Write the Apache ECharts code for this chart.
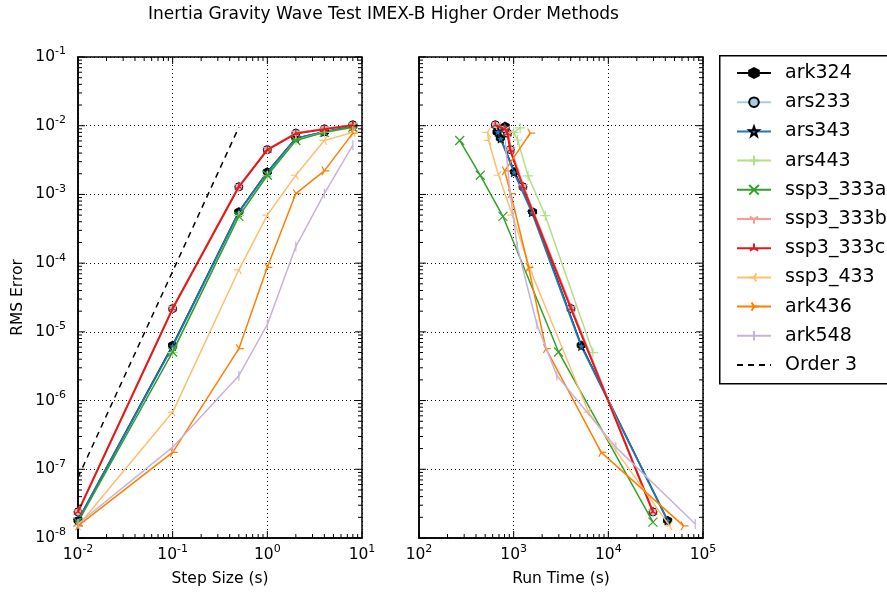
<!DOCTYPE html>
<html>
<head>
<meta charset="utf-8">
<script src="https://cdn.jsdelivr.net/npm/echarts@6/dist/echarts.min.js"></script>
<style>
html,body{margin:0;padding:0;background:#fff;}
#chart{width:887px;height:592px;}
</style>
</head>
<body>
<div id="chart"></div>
<script>
// ---------------- data ----------------
const stepSizes = [0.01, 0.1, 0.5, 1, 2, 4, 8];

const err_ark324    = [1.8e-8, 6.4e-6, 5.6e-4, 2.13e-3, 6.6e-3, 8.1e-3, 9.8e-3];
const err_ars233    = [2.4e-8, 2.18e-5, 1.29e-3, 4.49e-3, 7.8e-3, 9.0e-3, 1.03e-2];
const err_ars343    = [1.8e-8, 6.2e-6, 5.5e-4, 2.1e-3, 6.5e-3, 8.1e-3, 9.8e-3];
const err_ars443    = [null, 5.0e-6, 4.9e-4, 1.86e-3, 6.2e-3, 8.0e-3, 9.3e-3];
const err_ssp3_333a = [1.7e-8, 5.1e-6, 4.8e-4, 1.9e-3, 6.1e-3, 8.0e-3, 9.5e-3];
const err_ssp3_333b = [2.4e-8, 2.2e-5, 1.3e-3, 4.5e-3, 7.8e-3, 9.0e-3, 1.02e-2];
const err_ssp3_333c = [2.4e-8, 2.18e-5, 1.29e-3, 4.45e-3, 7.7e-3, 8.9e-3, 1.02e-2];
const err_ssp3_433  = [1.5e-8, 6.8e-7, 8.0e-5, 5.0e-4, 1.9e-3, 6.1e-3, 8.0e-3];
const err_ark436    = [1.5e-8, 1.76e-7, 5.7e-6, 8.7e-5, 1.03e-3, 2.2e-3, 7.8e-3];
const err_ark548    = [1.6e-8, 2.1e-7, 2.3e-6, 1.28e-5, 1.74e-4, 1.03e-3, 5.2e-3];

const rt_ark324    = [42300, 5180, 1585, 1024, 723, 667, 815];
const rt_ars233    = [29600, 4030, 1253, 920, 860, 810, 640];
const rt_ars343    = [42300, 5180, 1560, 1010, 730, 680, 800];
const rt_ars443    = [null, 6870, 2160, 1420, 1100, 1000, 1170];
const rt_ssp3_333a = [29600, 2980, 770, 444, 269, null, null];
const rt_ssp3_333b = [29600, 4100, 1270, 940, 880, 830, 660];
const rt_ssp3_333c = [29600, 4030, 1253, 920, 860, 810, 640];
const rt_ssp3_433  = [44400, 6170, 1497, 970, 692, 543, 530];
const rt_ark436    = [62200, 8420, 2190, 1437, 930, 804, 1497];
const rt_ark548    = [82800, 12000, 2865, 1760, 1090, 920, 820];

const order3X = [0.01, 0.5];
const order3Y = [7.6e-8, 9.5e-3];

const methodNames = ['ark324','ars233','ars343','ars443','ssp3_333a','ssp3_333b','ssp3_333c','ssp3_433','ark436','ark548'];
const errors = [err_ark324, err_ars233, err_ars343, err_ars443, err_ssp3_333a, err_ssp3_333b, err_ssp3_333c, err_ssp3_433, err_ark436, err_ark548];
const runTimes = [rt_ark324, rt_ars233, rt_ars343, rt_ars443, rt_ssp3_333a, rt_ssp3_333b, rt_ssp3_333c, rt_ssp3_433, rt_ark436, rt_ark548];

const xTicksLeft = [-2, -1, 0, 1];
const xTicksRight = [2, 3, 4, 5];
const yTicks = [-8, -7, -6, -5, -4, -3, -2, -1];

// ---------------- styles ----------------
const BOX = 'M0,0M10,10';
const SYM = {
  hex: 'path://M5,0L9.33,2.5L9.33,7.5L5,10L0.67,7.5L0.67,2.5Z',
  circle: 'circle',
  star: 'path://M5,0L6.18,3.38L9.76,3.45L6.9,5.62L7.94,9.05L5,7L2.06,9.05L3.1,5.62L0.24,3.45L3.82,3.38Z',
  plus: 'path://' + BOX + 'M5,0L5,10M0,5L10,5',
  cross: 'path://' + BOX + 'M0,0L10,10M10,0L0,10',
  tdown: 'path://' + BOX + 'M5,5L5,10M5,5L0.67,2.5M5,5L9.33,2.5',
  tup: 'path://' + BOX + 'M5,5L5,0M5,5L0.67,7.5M5,5L9.33,7.5',
  tleft: 'path://' + BOX + 'M5,5L0,5M5,5L7.5,0.67M5,5L7.5,9.33',
  tright: 'path://' + BOX + 'M5,5L10,5M5,5L2.5,0.67M5,5L2.5,9.33',
  vline: 'path://' + BOX + 'M5,0L5,10'
};
const styles = {
  ark324:    {color:'#000000', symbol:SYM.hex,   size:8,  fill:'#000000', edge:'#000000', ew:1,   lw:1.5},
  ars233:    {color:'#a6cee3', symbol:SYM.circle,size:8,  fill:'#a6cee3', edge:'#000000', ew:1,   lw:1.5},
  ars343:    {color:'#1f78b4', symbol:SYM.star,  size:9,  fill:'#1f78b4', edge:'#000000', ew:0.8, lw:2},
  ars443:    {color:'#b2df8a', symbol:SYM.plus,  size:10, fill:'#b2df8a', edge:'#b2df8a', ew:1.2, lw:1.5},
  ssp3_333a: {color:'#33a02c', symbol:SYM.cross, size:9,  fill:'#33a02c', edge:'#33a02c', ew:1.2, lw:1.5},
  ssp3_333b: {color:'#fb9a99', symbol:SYM.tdown, size:10, fill:'#fb9a99', edge:'#fb9a99', ew:1.2, lw:2},
  ssp3_333c: {color:'#e31a1c', symbol:SYM.tup,   size:10, fill:'#e31a1c', edge:'#e31a1c', ew:1.2, lw:2},
  ssp3_433:  {color:'#fdbf6f', symbol:SYM.tleft, size:10, fill:'#fdbf6f', edge:'#fdbf6f', ew:1.2, lw:1.5},
  ark436:    {color:'#ff7f00', symbol:SYM.tright,size:10, fill:'#ff7f00', edge:'#ff7f00', ew:1.2, lw:1.5},
  ark548:    {color:'#cab2d6', symbol:SYM.vline, size:10, fill:'#cab2d6', edge:'#cab2d6', ew:1.2, lw:1.5}
};

const FONT = 'DejaVu Sans';

function logLabel(v){
  const e = Math.round(Math.log10(v));
  return '{b|10}{s|' + e + '}';
}
const richLabel = {
  b: {fontSize: 15.5, fontFamily: FONT, color: '#000'},
  s: {fontSize: 11, fontFamily: FONT, color: '#000', padding: [0,0,11,0]}
};

function makeXAxis(grid, min, max, name, showLabel){
  return {
    type: 'log', logBase: 10, gridIndex: grid, min: min, max: max, interval: 1,
    axisLine: {show: true, lineStyle: {color: '#000', width: 1.5}},
    axisTick: {show: false},
    splitLine: {show: true, lineStyle: {color: '#000', type: [1, 3], width: 1}},
    axisLabel: {show: showLabel, formatter: logLabel, rich: richLabel, margin: 6, hideOverlap: false},
    name: name, nameLocation: 'middle', nameGap: 33,
    nameTextStyle: {fontFamily: FONT, fontSize: 15.5, color: '#000'}
  };
}
function makeYAxis(grid, showLabel, name){
  return {
    type: 'log', logBase: 10, gridIndex: grid, min: 1e-8, max: 1e-1, interval: 1,
    axisLine: {show: true, lineStyle: {color: '#000', width: 1.5}},
    axisTick: {show: false},
    splitLine: {show: true, lineStyle: {color: '#000', type: [1, 3], width: 1}},
    axisLabel: {show: showLabel, formatter: logLabel, rich: richLabel, margin: 12, hideOverlap: false},
    name: name, nameLocation: 'middle', nameGap: 52, nameRotate: 90,
    nameTextStyle: {fontFamily: FONT, fontSize: 15.5, color: '#000'}
  };
}

// tick marks (major + minor) drawn through the axes' own scales
function tickData(xDecades, yDecades){
  const d = [];
  const x0 = Math.pow(10, xDecades[0]);
  const y0 = Math.pow(10, yDecades[0]);
  for (let i = 0; i < xDecades.length; i++){
    const base = Math.pow(10, xDecades[i]);
    d.push([base, y0, 0, 7]);
    if (i < xDecades.length - 1) for (let m = 2; m <= 9; m++) d.push([m * base, y0, 0, 4]);
  }
  for (let i = 0; i < yDecades.length; i++){
    const base = Math.pow(10, yDecades[i]);
    d.push([x0, base, 1, 7]);
    if (i < yDecades.length - 1) for (let m = 2; m <= 9; m++) d.push([x0, m * base, 1, 4]);
  }
  return d;
}
function renderTicks(params, api){
  const cs = params.coordSys;
  const kind = api.value(2), len = api.value(3);
  const st = {stroke: '#000', lineWidth: 1};
  const p = api.coord([api.value(0), api.value(1)]);
  if (kind === 0){
    const x = p[0];
    return {type: 'group', children: [
      {type: 'line', shape: {x1: x, y1: cs.y + cs.height, x2: x, y2: cs.y + cs.height - len}, style: st},
      {type: 'line', shape: {x1: x, y1: cs.y, x2: x, y2: cs.y + len}, style: st}
    ]};
  } else {
    const y = p[1];
    return {type: 'group', children: [
      {type: 'line', shape: {x1: cs.x, y1: y, x2: cs.x + len, y2: y}, style: st},
      {type: 'line', shape: {x1: cs.x + cs.width, y1: y, x2: cs.x + cs.width - len, y2: y}, style: st}
    ]};
  }
}

const series = [];
methodNames.forEach(function(name, i){
  const s = styles[name];
  const common = {
    name: name, type: 'line', symbol: s.symbol, symbolSize: s.size, showSymbol: true,
    lineStyle: {color: s.color, width: s.lw},
    itemStyle: {color: s.fill, borderColor: s.edge, borderWidth: s.ew},
    emphasis: {disabled: true}, animation: false, z: 3 + i * 0.01, clip: true
  };
  const leftData = [];
  const rightData = [];
  for (let j = 0; j < stepSizes.length; j++){
    if (errors[i][j] != null) leftData.push([stepSizes[j], errors[i][j]]);
    if (errors[i][j] != null && runTimes[i][j] != null) rightData.push([runTimes[i][j], errors[i][j]]);
  }
  series.push(Object.assign({}, common, {xAxisIndex: 0, yAxisIndex: 0, data: leftData}));
  series.push(Object.assign({}, common, {xAxisIndex: 1, yAxisIndex: 1, data: rightData}));
});
series.push({
  name: 'Order 3', type: 'line', xAxisIndex: 0, yAxisIndex: 0, symbol: 'none',
  lineStyle: {color: '#000', width: 1.5, type: [6, 5]}, itemStyle: {color: '#000', opacity: 0},
  data: order3X.map(function(x, k){ return [x, order3Y[k]]; }), animation: false, z: 3
});
series.push({type: 'custom', xAxisIndex: 0, yAxisIndex: 0, renderItem: renderTicks, silent: true,
  data: tickData(xTicksLeft, yTicks), encode: {x: 0, y: 1}, clip: false, z: 5, animation: false});
series.push({type: 'custom', xAxisIndex: 1, yAxisIndex: 1, renderItem: renderTicks, silent: true,
  data: tickData(xTicksRight, yTicks), encode: {x: 0, y: 1}, clip: false, z: 5, animation: false});

const legendData = methodNames.map(function(n){ return {name: n}; });
legendData.push({name: 'Order 3', itemStyle: {opacity: 0}});

const chart = echarts.init(document.getElementById('chart'), null, {renderer: 'canvas'});
chart.setOption({
  backgroundColor: '#fff',
  animation: false,
  textStyle: {fontFamily: FONT},
  grid: [
    {left: 78, top: 57, width: 284, height: 483, show: true, borderColor: '#000', borderWidth: 1.5, containLabel: false},
    {left: 419, top: 57, width: 284, height: 483, show: true, borderColor: '#000', borderWidth: 1.5, containLabel: false}
  ],
  xAxis: [
    makeXAxis(0, 0.01, 10, 'Step Size (s)', true),
    makeXAxis(1, 100, 100000, 'Run Time (s)', true)
  ],
  yAxis: [
    makeYAxis(0, true, 'RMS Error'),
    makeYAxis(1, false, '')
  ],
  legend: {
    orient: 'vertical', left: 731, top: 58, itemWidth: 34, itemHeight: 12, itemGap: 9.2,
    data: legendData,
    textStyle: {fontFamily: FONT, fontSize: 19, color: '#000', lineHeight: 20, padding: [0, 0, 0, 9]},
    selectedMode: false, z: 10
  },
  graphic: [
    {type: 'rect', left: 719, top: 55, z: 1, shape: {width: 200, height: 328},
     style: {fill: '#fff', stroke: '#000', lineWidth: 1.5}},
    {type: 'text', left: 148, top: 6, z: 10,
     style: {text: 'Inertia Gravity Wave Test IMEX-B Higher Order Methods', font: '17px "DejaVu Sans"', fill: '#000'}}
  ],
  series: series
});
</script>
</body>
</html>
